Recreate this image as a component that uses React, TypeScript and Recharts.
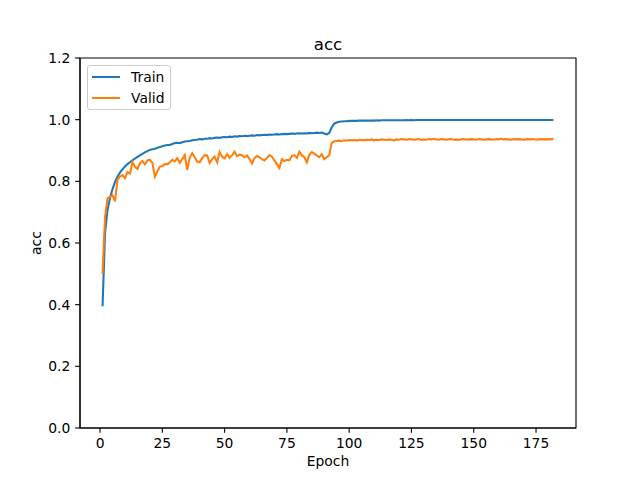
import { LineChart, Line, XAxis, YAxis, ReferenceArea } from 'recharts'

// accuracy per epoch
const trainAcc = [
  0.395, 0.632, 0.707, 0.746, 0.775, 0.798, 0.815, 0.828, 0.839, 0.848,
  0.856, 0.862, 0.868, 0.874, 0.879, 0.884, 0.889, 0.894, 0.898, 0.902,
  0.904, 0.906, 0.909, 0.911, 0.914, 0.916, 0.918, 0.918, 0.921, 0.924,
  0.925, 0.924, 0.927, 0.929, 0.93, 0.931, 0.933, 0.934, 0.935, 0.937,
  0.936, 0.938, 0.938, 0.94, 0.939, 0.941, 0.942, 0.941, 0.943, 0.944,
  0.943, 0.945, 0.944, 0.946, 0.945, 0.947, 0.946, 0.948, 0.947, 0.948,
  0.949, 0.948, 0.95, 0.949, 0.95, 0.951, 0.95, 0.952, 0.951, 0.952,
  0.953, 0.952, 0.953, 0.954, 0.953, 0.954, 0.955, 0.954, 0.955, 0.956,
  0.955, 0.956, 0.955, 0.957, 0.956, 0.957, 0.958, 0.957, 0.958, 0.955,
  0.952, 0.957, 0.975, 0.987, 0.991, 0.993, 0.994, 0.995, 0.995, 0.996,
  0.996, 0.996, 0.996, 0.997, 0.997, 0.997, 0.997, 0.997, 0.997, 0.997,
  0.998, 0.997, 0.998, 0.998, 0.998, 0.998, 0.998, 0.998, 0.998, 0.998,
  0.998, 0.998, 0.999, 0.998, 0.999, 0.998, 0.999, 0.999, 0.999, 0.999,
  0.999, 0.999, 0.999, 0.999, 0.999, 0.999, 0.999, 0.999, 0.999, 0.999,
  0.999, 0.999, 0.999, 0.999, 0.999, 0.999, 0.999, 0.999, 0.999, 0.999,
  0.999, 0.999, 0.999, 0.999, 0.999, 0.999, 0.999, 0.999, 0.999, 0.999,
  0.999, 0.999, 0.999, 0.999, 0.999, 0.999, 0.999, 0.999, 0.999, 0.999,
  0.999, 0.999, 0.999, 0.999, 0.999, 0.999, 0.999, 0.999, 0.999, 0.999,
  0.999, 0.999,
]

const validAcc = [
  0.5, 0.685, 0.745, 0.75, 0.755, 0.735, 0.805, 0.815, 0.82, 0.81,
  0.83, 0.825, 0.862, 0.848, 0.84, 0.858, 0.866, 0.855, 0.868, 0.87,
  0.86, 0.815, 0.832, 0.848, 0.85, 0.856, 0.855, 0.862, 0.87, 0.865,
  0.875, 0.86, 0.872, 0.885, 0.837, 0.878, 0.891, 0.878, 0.864, 0.862,
  0.875, 0.885, 0.884, 0.86, 0.872, 0.88, 0.862, 0.895, 0.88, 0.875,
  0.888, 0.876, 0.884, 0.896, 0.882, 0.887, 0.885, 0.878, 0.884, 0.872,
  0.858, 0.876, 0.882, 0.878, 0.872, 0.868, 0.876, 0.885, 0.88, 0.868,
  0.855, 0.843, 0.872, 0.866, 0.87, 0.868, 0.882, 0.885, 0.876, 0.896,
  0.884, 0.878, 0.862, 0.886, 0.895, 0.89, 0.884, 0.878, 0.888, 0.872,
  0.878, 0.885, 0.925, 0.93, 0.931, 0.932, 0.931, 0.933, 0.932, 0.934,
  0.933, 0.934, 0.932, 0.935, 0.934, 0.933, 0.935, 0.934, 0.936, 0.933,
  0.935, 0.934, 0.936, 0.935, 0.934, 0.936, 0.935, 0.933, 0.936, 0.935,
  0.937, 0.936, 0.935, 0.937, 0.936, 0.935, 0.936, 0.937, 0.934, 0.936,
  0.935, 0.937, 0.936, 0.938, 0.936, 0.935, 0.937, 0.936, 0.935, 0.936,
  0.937, 0.935, 0.936, 0.934, 0.936, 0.937, 0.935, 0.936, 0.937, 0.936,
  0.935, 0.937, 0.936, 0.935, 0.936, 0.937, 0.936, 0.935, 0.937, 0.936,
  0.938, 0.936, 0.937, 0.936, 0.935, 0.937, 0.936, 0.937, 0.936, 0.935,
  0.936, 0.937, 0.936, 0.937, 0.935, 0.936, 0.937, 0.936, 0.937, 0.936,
  0.937, 0.937,
]

const xTicks = [0, 25, 50, 75, 100, 125, 150, 175]
const yTicks = [0, 0.2, 0.4, 0.6, 0.8, 1.0, 1.2]

const series = [
  { key: 'train', name: 'Train', color: '#1f77b4' },
  { key: 'valid', name: 'Valid', color: '#ff7f0e' },
]

const FONT = '"DejaVu Sans", sans-serif'
// matplotlib points at 100 dpi
const PT = 100 / 72

export default function App() {
  const data = trainAcc.map((t, i) => ({ epoch: i + 1, train: t, valid: validAcc[i] }))

  // matplotlib pads the x range by 5% of the data span on each side
  const span = data.length - 1
  const xDomain = [1 - span * 0.05, data.length + span * 0.05]

  const tickStyle = { fontSize: 10 * PT, fontFamily: FONT, fill: '#000' }

  return (
    <div style={{ position: 'absolute', left: 0, top: 0, width: 640, height: 480, background: '#fff' }}>
      <LineChart width={640} height={480} data={data} margin={{ top: 58, right: 64, bottom: 0, left: 0 }}>
        <XAxis
          dataKey="epoch"
          type="number"
          domain={xDomain}
          ticks={xTicks}
          allowDataOverflow
          height={52}
          tickSize={3.5 * PT}
          tickMargin={3.5 * PT}
          tick={tickStyle}
          stroke="#000"
          strokeWidth={0.8 * PT}
        />
        <YAxis
          type="number"
          domain={[0, 1.2]}
          ticks={yTicks}
          width={80}
          tickSize={3.5 * PT}
          tickMargin={3.5 * PT}
          tick={tickStyle}
          tickFormatter={(v: number) => v.toFixed(1)}
          stroke="#000"
          strokeWidth={0.8 * PT}
        />
        <ReferenceArea
          x1={xDomain[0]}
          x2={xDomain[1]}
          y1={0}
          y2={1.2}
          fill="none"
          stroke="#000"
          strokeWidth={0.8 * PT}
        />
        {series.map((s) => (
          <Line
            key={s.key}
            type="linear"
            dataKey={s.key}
            name={s.name}
            stroke={s.color}
            strokeWidth={1.5 * PT}
            dot={false}
            isAnimationActive={false}
          />
        ))}
      </LineChart>

      {/* title and axis labels */}
      <svg width={640} height={480} style={{ position: 'absolute', left: 0, top: 0, pointerEvents: 'none' }}>
        <text x={328} y={50} textAnchor="middle" fontFamily={FONT} fontSize={12 * PT} fill="#000">acc</text>
        <text x={328} y={466} textAnchor="middle" fontFamily={FONT} fontSize={10 * PT} fill="#000">Epoch</text>
        <text x={41} y={243} textAnchor="middle" fontFamily={FONT} fontSize={10 * PT} fill="#000" transform="rotate(-90 41 243)">acc</text>
      </svg>

      {/* legend */}
      <div
        style={{
          position: 'absolute',
          left: 87,
          top: 65,
          width: 82,
          height: 43,
          border: '1px solid #cccccc',
          borderRadius: 3,
          background: 'rgba(255,255,255,0.8)',
          fontFamily: FONT,
          fontSize: 10 * PT,
        }}
      >
        {series.map((s, i) => (
          <div key={s.key} style={{ position: 'absolute', left: 4, top: 2 + i * 20.7, height: 18, display: 'flex', alignItems: 'center' }}>
            <svg width={28} height={4} style={{ display: 'block' }}>
              <line x1={0} y1={2} x2={28} y2={2} stroke={s.color} strokeWidth={1.5 * PT} />
            </svg>
            <span style={{ marginLeft: 11, lineHeight: '18px' }}>{s.name}</span>
          </div>
        ))}
      </div>
    </div>
  )
}
